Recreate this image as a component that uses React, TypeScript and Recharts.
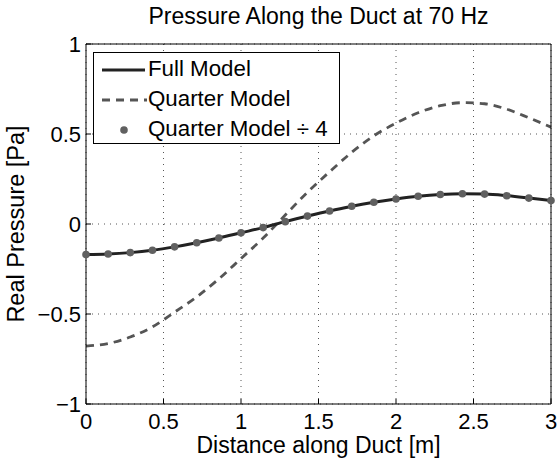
import React from "react"
import { LineChart, Line, XAxis, YAxis, CartesianGrid, Legend } from "recharts"

// distance along the duct [m], sampled every 1/7 m
const distance = [
  0, 0.1429, 0.2857, 0.4286, 0.5714, 0.7143, 0.8571, 1, 1.1429, 1.2857, 1.4286,
  1.5714, 1.7143, 1.8571, 2, 2.1429, 2.2857, 2.4286, 2.5714, 2.7143, 2.8571, 3,
]
const fullModel = [
  -0.17, -0.167, -0.159, -0.146, -0.127, -0.104, -0.078, -0.049, -0.02, 0.013, 0.044,
  0.072, 0.099, 0.121, 0.139, 0.154, 0.164, 0.168, 0.166, 0.157, 0.144, 0.13,
]
const quarterModel = [
  -0.678, -0.664, -0.628, -0.572, -0.49, -0.405, -0.305, -0.192, -0.078, 0.05, 0.176,
  0.29, 0.398, 0.49, 0.56, 0.618, 0.657, 0.674, 0.668, 0.638, 0.59, 0.538,
]
const quarterDiv4 = [
  -0.17, -0.167, -0.159, -0.146, -0.127, -0.104, -0.078, -0.049, -0.02, 0.013, 0.044,
  0.072, 0.099, 0.121, 0.139, 0.154, 0.164, 0.168, 0.166, 0.157, 0.144, 0.13,
]
const xTicks = [0, 0.5, 1, 1.5, 2, 2.5, 3]
const yTicks = [-1, -0.5, 0, 0.5, 1]

const FONT = '"Liberation Sans", Arial, Helvetica, sans-serif'

const data = distance.map((x, i) => ({
  x,
  full: fullModel[i],
  quarter: quarterModel[i],
  quarter4: quarterDiv4[i],
}))

const fmt = (v: number) => String(v).replace("-", "\u2212")

function LegendBox() {
  const row = (sample: React.ReactNode, label: string) => (
    <div style={{ display: "flex", alignItems: "center", height: 30 }}>
      <svg width={54} height={30} style={{ display: "block" }}>
        {sample}
      </svg>
      <span style={{ fontSize: 22.3, fontFamily: FONT, color: "#000", lineHeight: "30px" }}>{label}</span>
    </div>
  )
  return (
    <div
      style={{
        border: "1px solid #000",
        background: "#fff",
        width: 245,
        height: 89,
        padding: "1px 0 0 0",
        boxSizing: "content-box",
      }}
    >
      {row(<line x1={8} x2={51} y1={16} y2={16} stroke="#222" strokeWidth={2.8} />, "Full Model")}
      {row(
        <line x1={8} x2={53} y1={16} y2={16} stroke="#555" strokeWidth={2.8} strokeDasharray="8 6" />,
        "Quarter Model"
      )}
      {row(<circle cx={30} cy={16} r={3.8} fill="#606060" />, "Quarter Model \u00f7 4")}
    </div>
  )
}

export default function App() {
  return (
    <div style={{ position: "absolute", left: 0, top: 0, width: 558, height: 459, background: "#fff" }}>
      <div
        style={{
          position: "absolute",
          left: 86,
          width: 465,
          top: 3,
          textAlign: "center",
          fontFamily: FONT,
          fontSize: 23,
          lineHeight: "27px",
          color: "#000",
        }}
      >
        Pressure Along the Duct at 70 Hz
      </div>
      <LineChart width={558} height={459} data={data} margin={{ top: 43, right: 6, bottom: 0, left: 0 }}>
        <CartesianGrid stroke="#555" strokeDasharray="1 5" />
        <XAxis
          dataKey="x"
          type="number"
          domain={[0, 3]}
          ticks={xTicks}
          height={55}
          tickSize={-5}
          tickMargin={14}
          stroke="#000"
          tick={{ fill: "#000", fontSize: 22, fontFamily: FONT }}
          label={{
            value: "Distance along Duct [m]",
            position: "insideBottom",
            offset: 6,
            style: { fill: "#000", fontSize: 23, fontFamily: FONT },
          }}
        />
        <XAxis
          xAxisId="top"
          orientation="top"
          type="number"
          domain={[0, 3]}
          ticks={xTicks}
          height={1}
          tickSize={-5}
          tick={false}
          stroke="#000"
        />
        <YAxis
          type="number"
          domain={[-1, 1]}
          ticks={yTicks}
          width={86}
          tickSize={-5}
          tickMargin={10}
          tickFormatter={fmt}
          stroke="#000"
          tick={{ fill: "#000", fontSize: 22, fontFamily: FONT }}
          label={{
            value: "Real Pressure [Pa]",
            angle: -90,
            position: "insideLeft",
            offset: 16,
            style: { textAnchor: "middle", fill: "#000", fontSize: 23.5, fontFamily: FONT },
          }}
        />
        <YAxis
          yAxisId="right"
          orientation="right"
          type="number"
          domain={[-1, 1]}
          ticks={yTicks}
          width={1}
          tickSize={-5}
          tick={false}
          stroke="#000"
        />
        <Line
          dataKey="quarter"
          type="monotone"
          stroke="#555"
          strokeWidth={2.8}
          strokeDasharray="8 6"
          dot={false}
          isAnimationActive={false}
        />
        <Line dataKey="full" type="monotone" stroke="#222" strokeWidth={3} dot={false} isAnimationActive={false} />
        <Line
          dataKey="quarter4"
          stroke="none"
          dot={{ r: 3.8, fill: "#606060", stroke: "none" }}
          isAnimationActive={false}
        />
        <Legend
          layout="vertical"
          align="center"
          verticalAlign="middle"
          content={() => <LegendBox />}
          wrapperStyle={{ position: "absolute", left: 93, top: 52, width: "auto", height: "auto" }}
        />
      </LineChart>
    </div>
  )
}
